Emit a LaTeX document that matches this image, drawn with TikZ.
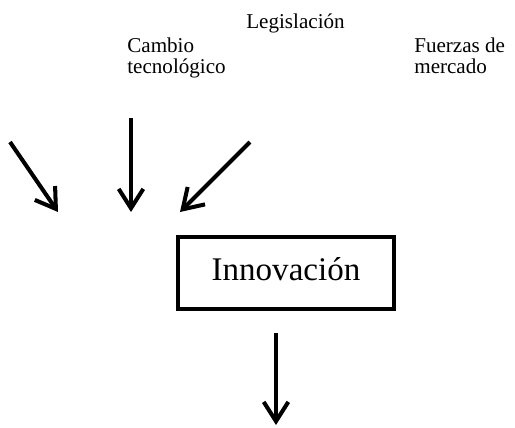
\documentclass[tikz,border=0pt]{standalone}
\usepackage{fontspec}
\setmainfont{Liberation Serif}
\usetikzlibrary{arrows.meta}
\begin{document}
\begin{tikzpicture}[x=0.02cm,y=-0.02cm,
  lbl/.style={inner sep=0pt, font=\fontsize{12}{11.4}\selectfont, align=left},
  arr/.style={line width=2.3pt, -{Straight Barb[length=11pt,width=14pt]}},
  mainbox/.style={draw, line width=2.3pt, minimum width=4.32cm, minimum height=1.44cm,
    inner sep=0pt, text height=13pt, text depth=5pt, font=\fontsize{18.8}{20}\selectfont}]
\useasboundingbox (0,0) rectangle (515,427);
\node[lbl, anchor=base west] (leg) at (246,28) {Legislación};
\node[lbl, anchor=north west] (cam) at (127,38) {Cambio\\tecnológico};
\node[lbl, anchor=north west] (fue) at (414,38) {Fuerzas de\\mercado};
\node[mainbox] (inn) at (286,273) {Innovación\hspace{0.34cm}};
\coordinate (a1s) at (10,142);
\coordinate (a1e) at (58,212);
\coordinate (a2s) at (131,118);
\coordinate (a2e) at (131,212);
\coordinate (a3s) at (250,142);
\coordinate (a3e) at (180,212);
\coordinate (a4s) at (276,333);
\coordinate (a4e) at (276,425);
\draw[arr] (a1s) -- (a1e);
\draw[arr] (a2s) -- (a2e);
\draw[arr] (a3s) -- (a3e);
\draw[arr] (a4s) -- (a4e);
\end{tikzpicture}
\end{document}
